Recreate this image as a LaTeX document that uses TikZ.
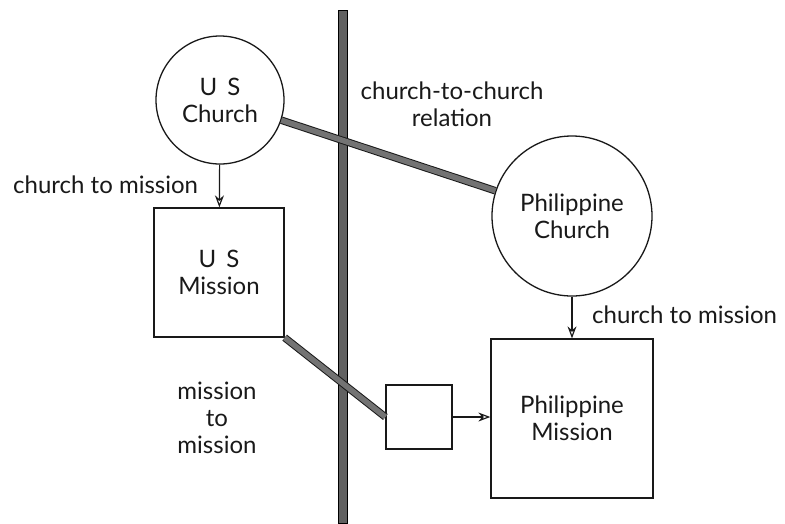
\documentclass[tikz,border=0pt]{standalone}
\usepackage{fontspec}
\setmainfont{Lato}
\usetikzlibrary{arrows.meta}
\begin{document}
\begin{tikzpicture}[x=1pt,y=-1pt,
  every node/.style={font=\fontsize{24}{27}\selectfont, text=black!90},
  org/.style={draw=black!90, line width=1.3pt, inner sep=0pt, align=center},
  church/.style={org, circle},
  mission/.style={org, rectangle},
  wall/.style={draw=black, line width=1pt, fill=black!62, inner sep=0pt, minimum width=9pt, minimum height=513pt},
  band/.style={draw=black!90, line width=1pt, double=black!55, double distance=5.5pt},
  flow/.style={draw=black!90, line width=1.2pt, -{Stealth[open, length=12pt, width=9pt]}},
  lbl/.style={inner sep=0pt}
]
\useasboundingbox (0,0) rectangle (785,523);

\node[wall] (wall) at (343,266.5) {};

\node[church, minimum size=128pt] (usc) at (220,100) {U\, S\\Church};
\node[mission, minimum width=130pt, minimum height=129pt] (usm) at (219,272.5) {U\, S\\Mission};
\node[church, minimum size=160pt] (phc) at (572,216) {Philippine\\Church};
\node[mission, minimum width=162pt, minimum height=159pt] (phm) at (572,418.5) {Philippine\\Mission};
\node[mission, minimum width=66pt, minimum height=64pt] (sb) at (419,417) {};

\draw[band] (usc) -- (phc);
\draw[band] (usm.south east) -- (sb.west);

\draw[flow] (usc) -- (usm);
\draw[flow] (phc) -- (phm);
\draw[flow] (sb) -- (sb -| phm.west);

\node[lbl, anchor=base west] (l1) at (13,193) {church to mission};
\node[lbl, anchor=base west] (l2) at (592,323) {church to mission};
\node[lbl, align=center] (l3) at (452,104) {church-to-church\\relation};
\node[lbl, align=center] (l4) at (217,418) {mission\\to\\mission};
\end{tikzpicture}
\end{document}
